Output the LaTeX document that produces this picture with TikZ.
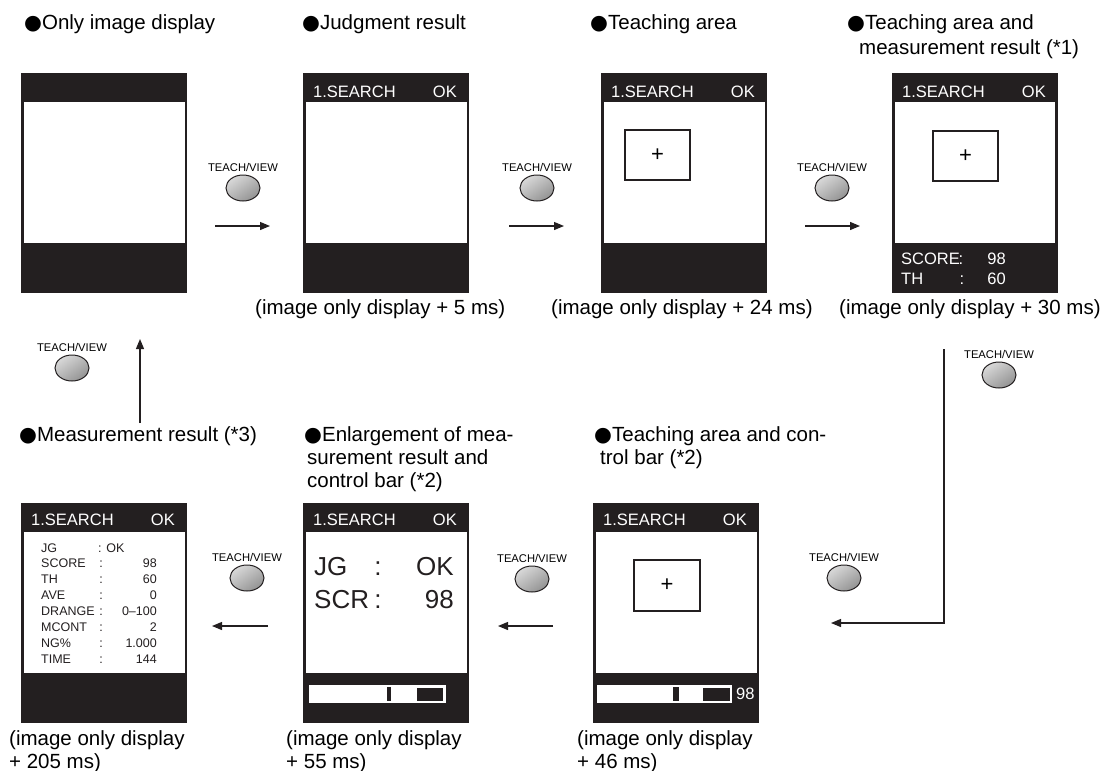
\documentclass[tikz,border=0pt]{standalone}
\usepackage{fontspec}
\setmainfont{Liberation Sans}
\newfontfamily\dejavu{DejaVu Sans}
\usetikzlibrary{arrows.meta,shapes.geometric}
\definecolor{scr}{HTML}{231F20}
\newcommand{\blt}{{\dejavu ●}}
\tikzset{
  title/.style={anchor=base west, inner sep=0pt, align=left, font=\fontsize{20.5}{25}\selectfont},
  titleb/.style={title, font=\fontsize{20.5}{23}\selectfont},
  screenbox/.style={rectangle, fill=scr, draw=none, inner sep=0pt, minimum width=166pt, minimum height=220pt, anchor=north west},
  scrwhite/.style={fill=white, draw=none},
  hdr/.style={text=white, inner sep=0pt, font=\fontsize{16.5}{18}\selectfont},
  wtext/.style={text=white, inner sep=0pt, font=\fontsize{16.5}{18}\selectfont},
  ltext/.style={text=scr, inner sep=0pt, font=\fontsize{12.5}{14}\selectfont},
  btext/.style={text=scr, inner sep=0pt, font=\fontsize{26}{28}\selectfont},
  teachbox/.style={draw=scr, line width=1.6pt, fill=white},
  plus/.style={inner sep=0pt, font=\fontsize{22}{24}\selectfont},
  button/.style={ellipse, draw=scr, line width=1pt, minimum width=34pt, minimum height=26pt, inner sep=0pt, top color=gray!30, bottom color=gray!85, shading angle=35},
  btnlabel/.style={inner sep=0pt, font=\fontsize{11.2}{12}\selectfont},
  flow/.style={draw=scr, line width=1.2pt, -{Triangle[length=10pt,width=8pt]}},
}
\begin{document}
\begin{tikzpicture}[x=1pt,y=-1pt]
\useasboundingbox (0,0) rectangle (1103,771);

% ---------- titles (base = baseline of last line) ----------
\node[title] (t1) at (24,29) {\blt Only image display};
\node[title] (t2) at (302,29) {\blt Judgment result};
\node[title] (t3) at (590,29) {\blt Teaching area};
\node[title] (t4) at (847,54) {\blt Teaching area and\\\hspace*{12pt}measurement result (*1)};
\node[titleb] (t5) at (19,441) {\blt Measurement result (*3)};
\node[titleb] (t6) at (304,487) {\blt Enlargement of mea-\\\hspace*{3pt}surement result and\\\hspace*{3pt}control bar (*2)};
\node[titleb] (t7) at (594,464) {\blt Teaching area and con-\\\hspace*{6pt}trol bar (*2)};

% ---------- captions ----------
\node[title] (c2) at (255,314) {(image only display + 5 ms)};
\node[title] (c3) at (551,314) {(image only display + 24 ms)};
\node[title] (c4) at (839,314) {(image only display + 30 ms)};
\node[titleb] (c5) at (9,768) {(image only display\\+ 205 ms)};
\node[titleb] (c6) at (286,768) {(image only display\\+ 55 ms)};
\node[titleb] (c7) at (577,768) {(image only display\\+ 46 ms)};

% ---------- screens ----------
\node[screenbox] (s1) at (21,73) {};
\node[screenbox] (s2) at (303,73) {};
\node[screenbox] (s3) at (601,73) {};
\node[screenbox] (s4) at (892,73) {};
\node[screenbox] (s5) at (21,503) {};
\node[screenbox] (s6) at (303,503) {};
\node[screenbox] (s7) at (593,503) {};

\fill[scrwhite] (24,102) rectangle (185,243);
\fill[scrwhite] (306,102) rectangle (467,243);
\fill[scrwhite] (604,102) rectangle (765,243);
\fill[scrwhite] (895,102) rectangle (1055,243);
\fill[scrwhite] (24,532) rectangle (185,673);
\fill[scrwhite] (306,532) rectangle (467,673);
\fill[scrwhite] (596,532) rectangle (757,673);

% headers
\foreach \n/\x/\y in {s2/303/97, s3/601/97, s4/892/97, s5/21/525, s6/303/525, s7/593/525}{
  \node[hdr, anchor=base west] (\n h1) at (\x+10,\y) {1.SEARCH};
  \node[hdr, anchor=base east] (\n h2) at (\x+154,\y) {OK};
}

% teaching boxes
\draw[teachbox] (625,130) rectangle (690,180);
\node[plus] (s3p) at (657.5,155) {+};
\draw[teachbox] (933,131) rectangle (998,181);
\node[plus] (s4p) at (965.5,156) {+};
\draw[teachbox] (634,560) rectangle (700,611);
\node[plus] (s7p) at (667,585.5) {+};

% screen 4 results
\node[wtext, anchor=base west] (s4a) at (901,264) {SCORE};
\node[wtext, anchor=base] (s4b) at (961,264) {:};
\node[wtext, anchor=base east] (s4c) at (1006,264) {98};
\node[wtext, anchor=base west] (s4d) at (901,284) {TH};
\node[wtext, anchor=base] (s4e) at (962,284) {:};
\node[wtext, anchor=base east] (s4f) at (1006,284) {60};

% screen 5 measurement list
\node[ltext, anchor=base west] (m1a) at (41,552) {JG};
\node[ltext, anchor=base west] (m1b) at (98,552) {: OK};
\foreach \lab/\val [count=\i] in {SCORE/98, TH/60, AVE/0, DRANGE/0--100, MCONT/2, NG\%/1.000, TIME/144}{
  \node[ltext, anchor=base west] (m\i l) at (41,552+\i*15.9) {\lab};
  \node[ltext, anchor=base] (m\i c) at (101,552+\i*15.9) {:};
  \node[ltext, anchor=base east] (m\i v) at (157,552+\i*15.9) {\val};
}

% screen 6 enlarged
\node[btext, anchor=base west] (e1) at (314,575) {JG};
\node[btext, anchor=base] (e2) at (378,575) {:};
\node[btext, anchor=base east] (e3) at (454,575) {OK};
\node[btext, anchor=base west] (e4) at (314,608) {SCR};
\node[btext, anchor=base] (e5) at (378,608) {:};
\node[btext, anchor=base east] (e6) at (454,608) {98};

% control bars
\fill[white] (309,685) rectangle (446,703);
\fill[scr] (387,687) rectangle (391,701);
\fill[scr] (417,687.5) rectangle (443,700.5);
\fill[white] (597,685) rectangle (732,703);
\fill[scr] (673,687) rectangle (679,701);
\fill[scr] (703,687.5) rectangle (730,700.5);
\node[wtext, anchor=west] (s7v) at (736,694) {98};

% ---------- buttons ----------
\foreach \n/\x/\y in {b1/243/188, b2/537/188, b3/832/188, b4/999/375, b5/844/578, b6/532/579, b7/247/578, b8/72/368}{
  \node[button] (\n) at (\x,\y) {};
  \node[btnlabel] (\n l) at (\x,\y-21) {TEACH/VIEW};
}

% ---------- connectors ----------
\coordinate (a1s) at (215,226); \coordinate (a1e) at (270,226);
\coordinate (a2s) at (509,226); \coordinate (a2e) at (564,226);
\coordinate (a3s) at (805,226); \coordinate (a3e) at (860,226);
\coordinate (r1) at (944,349); \coordinate (r3) at (831,623);
\coordinate (a5s) at (553,626); \coordinate (a5e) at (498,626);
\coordinate (a6s) at (268,626); \coordinate (a6e) at (212,626);
\coordinate (a7s) at (140,423); \coordinate (a7e) at (140,339);
\draw[flow] (a1s) -- (a1e);
\draw[flow] (a2s) -- (a2e);
\draw[flow] (a3s) -- (a3e);
\draw[flow] (r1) |- (r3);
\draw[flow] (a5s) -- (a5e);
\draw[flow] (a6s) -- (a6e);
\draw[flow] (a7s) -- (a7e);
\end{tikzpicture}
\end{document}
